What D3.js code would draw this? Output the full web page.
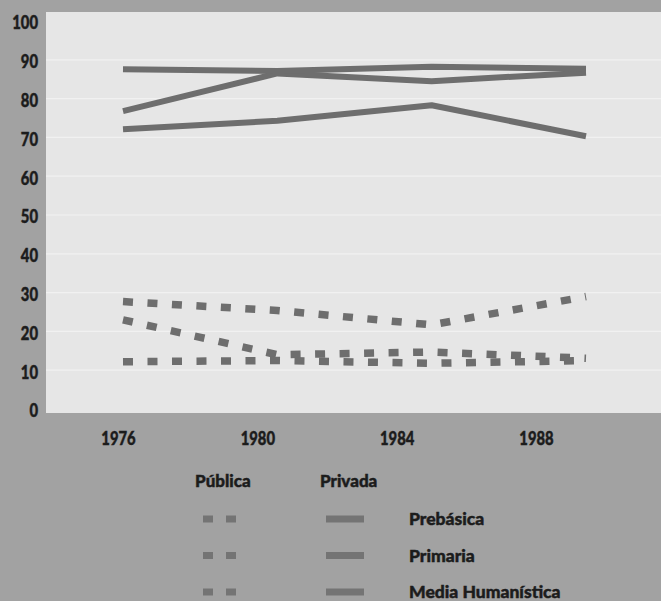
<!DOCTYPE html>
<html>
<head>
<meta charset="utf-8">
<script src="https://cdn.jsdelivr.net/npm/d3@7"></script>
<style>
  html, body { margin: 0; padding: 0; background: #a2a2a2; }
  svg { display: block; }
  text { font-family: Lato, "Open Sans", sans-serif; font-weight: 900; fill: #1c1c1c; stroke: #1c1c1c; stroke-width: 0.45px; }
</style>
</head>
<body>
<svg id="chart" width="661" height="601"></svg>
<script>
// Enrolment shares by sector (%), four survey years
const years = [1976, 1980, 1984, 1988];
const yearLabels = ["1976", "1980", "1984", "1988"];
const yTicks = [0, 10, 20, 30, 40, 50, 60, 70, 80, 90, 100];
const levels = ["Prebásica", "Primaria", "Media Humanística"];
const sectors = ["Pública", "Privada"];

// Pública (dotted)
const publicaPrebasica = [23.5, 14.5, 15.2, 13.6];
const publicaPrimaria  = [12.7, 13.0, 12.3, 13.0];
const publicaMedia     = [28.2, 25.9, 22.2, 29.5];
// Privada (solid)
const privadaPrebasica = [77.3, 87.0, 85.0, 87.2];
const privadaPrimaria  = [88.1, 87.6, 88.7, 88.2];
const privadaMedia     = [72.6, 74.8, 78.8, 70.8];

const series = [
  { sector: "Pública", level: "Prebásica", values: publicaPrebasica },
  { sector: "Pública", level: "Primaria", values: publicaPrimaria },
  { sector: "Pública", level: "Media Humanística", values: publicaMedia },
  { sector: "Privada", level: "Prebásica", values: privadaPrebasica },
  { sector: "Privada", level: "Primaria", values: privadaPrimaria },
  { sector: "Privada", level: "Media Humanística", values: privadaMedia }
];

const svg = d3.select("#chart");
const W = 661, H = 601;
const plot = { left: 46, top: 12, right: 661, bottom: 413 };
const lineColor = "#6e6e6e";
const dash = "10,14.5";

// scales
const x = d3.scaleLinear().domain([years[0], years[years.length - 1]]).range([123, 586]);
const xLabel = d3.scalePoint().domain(yearLabels).range([118, 536]);
const y = d3.scaleLinear().domain([0, 100]).range([411, 23]);

// backdrop
svg.append("rect").attr("width", W).attr("height", H).attr("fill", "#a2a2a2");
svg.append("rect")
  .attr("x", plot.left).attr("y", plot.top)
  .attr("width", plot.right - plot.left).attr("height", plot.bottom - plot.top)
  .attr("fill", "#e6e6e6");

// faint gridlines
svg.append("g").selectAll("line")
  .data(yTicks.filter(d => d > 0 && d < 100))
  .join("line")
  .attr("x1", plot.left).attr("x2", plot.right)
  .attr("y1", d => y(d) - 2).attr("y2", d => y(d) - 2)
  .attr("stroke", "#f1f1f1").attr("stroke-width", 1.2);

// y axis
const yAxis = svg.append("g")
  .attr("transform", `translate(${plot.left},0)`)
  .call(d3.axisLeft(y).tickValues(yTicks).tickSize(0).tickPadding(10));
yAxis.select(".domain").remove();
yAxis.selectAll("text")
  .attr("font-size", 18.5)
  .attr("font-family", "Lato, sans-serif")
  .attr("font-weight", 900)
  .attr("fill", "#1c1c1c")
  .attr("transform", "scale(0.8,1)");

// x axis (year labels)
const xAxis = svg.append("g")
  .attr("transform", `translate(0,${plot.bottom})`)
  .call(d3.axisBottom(xLabel).tickSize(0).tickPadding(0));
xAxis.select(".domain").remove();
xAxis.selectAll(".tick text")
  .attr("y", 0).attr("dy", null)
  .attr("font-size", 18.5)
  .attr("font-family", "Lato, sans-serif")
  .attr("font-weight", 900)
  .attr("fill", "#1c1c1c")
  .attr("transform", "translate(0,32) scale(0.8,1)");

// lines
const line = d3.line()
  .x((d, i) => x(years[i]))
  .y(d => y(d));

svg.append("g").selectAll("path")
  .data(series)
  .join("path")
  .attr("d", d => line(d.values))
  .attr("fill", "none")
  .attr("stroke", lineColor)
  .attr("stroke-width", d => d.sector === "Pública" ? 7.5 : 6)
  .attr("stroke-dasharray", d => d.sector === "Pública" ? dash : null)
  .attr("stroke-linejoin", "round")
  .attr("stroke-linecap", "butt");

// legend
const legend = svg.append("g");
const colX = { "Pública": 195, "Privada": 320 };
legend.selectAll("text.head")
  .data(sectors)
  .join("text")
  .attr("class", "head")
  .attr("x", d => colX[d])
  .attr("y", 487)
  .attr("font-size", 17)
  .text(d => d);

const rowY = d3.scalePoint().domain(levels).range([519, 592]);
const rows = legend.selectAll("g.row")
  .data(levels)
  .join("g")
  .attr("class", "row")
  .attr("transform", d => `translate(0,${rowY(d)})`);

rows.append("line")
  .attr("x1", 203).attr("x2", 238).attr("y1", 0).attr("y2", 0)
  .attr("stroke", "#747474").attr("stroke-width", 7)
  .attr("stroke-dasharray", "10,13");
rows.append("line")
  .attr("x1", 326).attr("x2", 364).attr("y1", 0).attr("y2", 0)
  .attr("stroke", "#747474").attr("stroke-width", 7);
rows.append("text")
  .attr("x", 409).attr("y", 6)
  .attr("font-size", 17.5)
  .text(d => d);
</script>
</body>
</html>
